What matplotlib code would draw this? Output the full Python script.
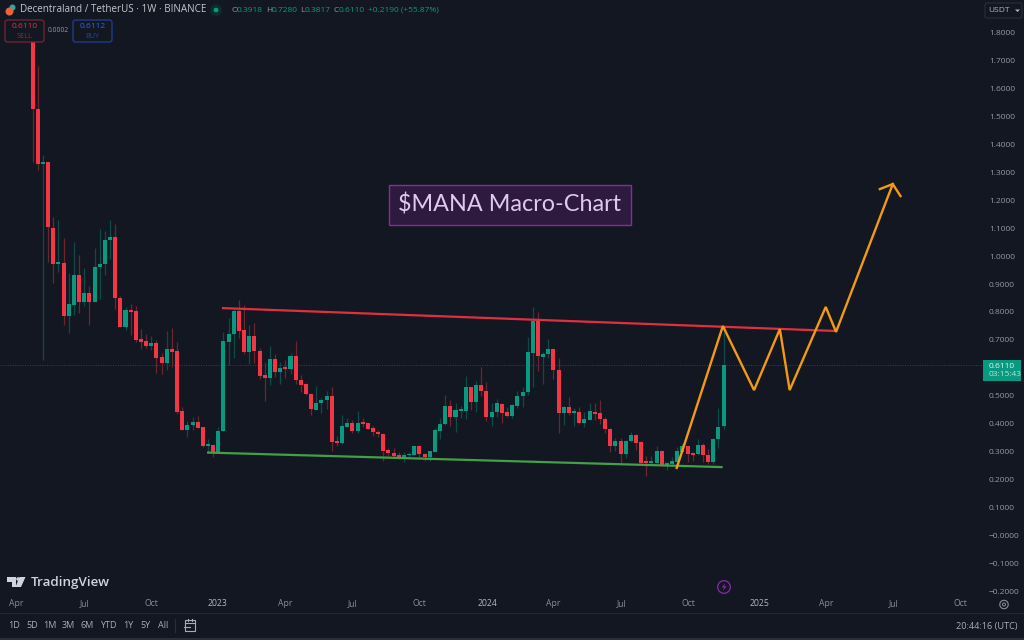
import math
import matplotlib
matplotlib.use("Agg")
import matplotlib.pyplot as plt
from matplotlib.patches import Rectangle, FancyBboxPatch, Polygon
from matplotlib.lines import Line2D

# ---- weekly OHLC (MANA/USDT) ----
opens = [1.84,1.525,1.329,1.336,1.100,0.971,0.975,0.786,0.825,0.932,0.836,0.868,0.836,0.961,0.971,1.057,1.068,0.850,0.746,0.807,
         0.804,0.704,0.696,0.679,0.689,0.639,0.618,0.668,0.661,0.446,0.379,0.396,0.407,0.389,0.323,0.325,0.300,0.375,0.693,0.721,
         0.804,0.736,0.657,0.714,0.661,0.575,0.564,0.632,0.586,0.598,0.596,0.643,0.557,0.543,0.507,0.450,0.475,0.486,0.500,0.339,
         0.332,0.389,0.404,0.375,0.404,0.404,0.386,0.371,0.364,0.307,0.296,0.289,0.282,0.288,0.289,0.321,0.293,0.282,0.300,0.375,
         0.400,0.464,0.425,0.448,0.446,0.532,0.479,0.539,0.518,0.425,0.443,0.471,0.443,0.429,0.464,0.500,0.514,0.654,0.768,0.639,
         0.650,0.668,0.593,0.439,0.461,0.441,0.443,0.404,0.414,0.443,0.439,0.418,0.382,0.321,0.339,0.293,0.339,0.361,0.336,0.264,
         0.261,0.261,0.304,0.254,0.257,0.264,0.300,0.321,0.296,0.293,0.325,0.289,0.264,0.346,0.3918]
highs = [1.84,1.679,1.361,1.336,1.139,1.129,1.064,0.939,1.050,1.004,0.957,0.893,1.029,1.096,1.089,1.129,1.114,0.857,0.818,0.829,
         0.821,0.739,0.721,0.714,0.700,0.654,0.732,0.743,0.693,0.461,0.411,0.425,0.429,0.389,0.346,0.329,0.389,0.729,0.779,0.811,
         0.843,0.825,0.754,0.761,0.671,0.621,0.679,0.650,0.621,0.629,0.654,0.696,0.575,0.546,0.511,0.536,0.493,0.518,0.532,0.357,
         0.432,0.421,0.414,0.446,0.421,0.404,0.393,0.379,0.368,0.314,0.314,0.300,0.300,0.300,0.321,0.325,0.296,0.304,0.386,0.421,
         0.504,0.486,0.475,0.464,0.571,0.532,0.554,0.604,0.550,0.475,0.489,0.475,0.461,0.471,0.518,0.532,0.711,0.818,0.800,0.657,
         0.704,0.671,0.636,0.464,0.496,0.457,0.461,0.443,0.475,0.475,0.486,0.425,0.386,0.350,0.350,0.343,0.371,0.364,0.339,0.286,
         0.286,0.321,0.307,0.264,0.282,0.318,0.332,0.321,0.300,0.346,0.332,0.311,0.350,0.457,0.7280]
lows = [1.336,1.307,0.629,0.979,0.904,0.943,0.754,0.725,0.789,0.796,0.821,0.754,0.836,0.846,0.932,0.989,0.811,0.745,0.736,0.718,
        0.693,0.668,0.671,0.664,0.582,0.579,0.593,0.604,0.436,0.379,0.354,0.379,0.386,0.318,0.296,0.282,0.296,0.375,0.611,0.636,
        0.707,0.650,0.614,0.618,0.561,0.482,0.539,0.568,0.543,0.564,0.579,0.543,0.514,0.504,0.432,0.450,0.439,0.454,0.304,0.321,
        0.329,0.389,0.368,0.368,0.389,0.382,0.357,0.354,0.268,0.286,0.282,0.275,0.264,0.279,0.289,0.282,0.268,0.268,0.300,0.346,
        0.396,0.393,0.371,0.421,0.418,0.450,0.443,0.500,0.411,0.393,0.425,0.404,0.425,0.421,0.457,0.461,0.504,0.532,0.589,0.543,
        0.636,0.561,0.368,0.396,0.432,0.393,0.400,0.389,0.414,0.414,0.400,0.368,0.300,0.304,0.257,0.279,0.336,0.307,0.257,0.214,
        0.261,0.261,0.250,0.236,0.254,0.261,0.296,0.264,0.268,0.289,0.264,0.257,0.257,0.314,0.3817]
closes = [1.525,1.329,1.334,1.104,0.971,0.975,0.786,0.829,0.932,0.836,0.868,0.836,0.961,0.971,1.057,1.068,0.850,0.746,0.807,0.800,
          0.700,0.693,0.679,0.689,0.636,0.618,0.668,0.657,0.443,0.379,0.396,0.407,0.386,0.321,0.325,0.296,0.375,0.696,0.721,0.804,
          0.732,0.657,0.714,0.661,0.571,0.564,0.632,0.586,0.600,0.596,0.643,0.557,0.539,0.507,0.454,0.475,0.486,0.500,0.336,0.332,
          0.393,0.404,0.375,0.404,0.401,0.382,0.371,0.364,0.304,0.296,0.286,0.279,0.286,0.289,0.321,0.293,0.282,0.304,0.379,0.400,
          0.464,0.425,0.450,0.450,0.532,0.479,0.539,0.518,0.425,0.443,0.475,0.439,0.429,0.468,0.500,0.514,0.657,0.768,0.643,0.650,
          0.668,0.593,0.439,0.461,0.439,0.443,0.404,0.418,0.446,0.436,0.418,0.382,0.321,0.339,0.293,0.339,0.361,0.332,0.261,0.261,
          0.264,0.304,0.254,0.257,0.268,0.304,0.321,0.293,0.289,0.325,0.289,0.264,0.346,0.389,0.6110]

last_price = 0.6110

# trend lines and projection: (week index, price)
resistance_x = [36.7, 156.0]
resistance_y = [0.814, 0.732]
support_x = [33.8, 133.8]
support_y = [0.298, 0.246]
path_x = [124.9, 133.85, 139.9, 144.9, 146.8, 153.8, 155.8, 166.8]
path_y = [0.243, 0.750, 0.521, 0.739, 0.521, 0.818, 0.729, 1.257]
head_x = [164.3, 166.8, 168.3]
head_y = [1.239, 1.257, 1.214]

price_ticks = [1.8,1.7,1.6,1.5,1.4,1.3,1.2,1.1,1.0,0.9,0.8,0.7,0.5,0.4,0.3,0.2,0.1,0.0,-0.1,-0.2]
price_labels = ["1.8000","1.7000","1.6000","1.5000","1.4000","1.3000","1.2000","1.1000","1.0000","0.9000","0.8000",
                "0.7000","0.5000","0.4000","0.3000","0.2000","0.1000","\u22120.0000","\u22120.1000","\u22120.2000"]
time_ticks = [-3.2, 10, 23, 35.9, 48.9, 62, 74.9, 88.1, 100.9, 114.2, 127.1, 141, 153.8, 167, 180]
time_labels = ["Apr","Jul","Oct","2023","Apr","Jul","Oct","2024","Apr","Jul","Oct","2025","Apr","Jul","Oct"]
ranges = ["1D","5D","1M","3M","6M","YTD","1Y","5Y","All"]
range_px = [14, 32, 50, 68, 87, 108, 128, 145, 163]

BG = "#131722"
UP, DOWN = "#089981", "#F23645"
UP_W, DOWN_W = "#0c4c48", "#6d2530"
ORANGE = "#f49a12"
W, H = 1024, 640
plt.rcParams["font.family"] = ["Open Sans", "DejaVu Sans"]

fig = plt.figure(figsize=(W / 100, H / 100), dpi=100, facecolor=BG)
ax = fig.add_axes([0, 1 - 596 / H, 983 / W, 596 / H], facecolor=BG)
ax.set_xlim(-6.34, 184.3)
ax.set_ylim(-0.2143, 1.9143)
for s in ax.spines.values():
    s.set_visible(False)

ax.axhline(last_price, color="#0e4d49", lw=0.8, ls=(0, (1, 1.2)), zorder=1)

for i, (o, h, l, c) in enumerate(zip(opens, highs, lows, closes)):
    up = c >= o
    ax.vlines(i, l, h, color=UP_W if up else DOWN_W, lw=0.9, zorder=2)
    ax.bar(i, max(abs(c - o), 0.006), bottom=min(o, c), width=0.78,
           color=UP if up else DOWN, linewidth=0, zorder=3)

ax.plot(support_x, support_y, color="#43a047", lw=1.6, zorder=4, solid_capstyle="butt")
ax.plot(resistance_x, resistance_y, color="#e0303f", lw=1.6, zorder=4, solid_capstyle="butt")
ax.plot(path_x, path_y, color=ORANGE, lw=1.7, zorder=5, solid_joinstyle="miter")
ax.plot(head_x, head_y, color=ORANGE, lw=1.7, zorder=5, solid_joinstyle="miter")

ax.yaxis.tick_right()
ax.set_yticks(price_ticks, price_labels)
ax.set_xticks(time_ticks, time_labels)
ax.tick_params(axis="y", length=0, pad=4.2, labelsize=6, labelcolor="#9598a1")
ax.tick_params(axis="x", length=0, pad=2.4, labelsize=6.2, labelcolor="#8a8d96")
for lab in ax.get_xticklabels():
    if lab.get_text().isdigit():
        lab.set_color("#b2b5be")


def px(x, y):
    return x / W, 1 - y / H


def label(x, y, s, color="#b2b5be", size=6, ha="left", va="center", **kw):
    fig.text(*px(x, y), s, color=color, fontsize=size, ha=ha, va=va, zorder=20, **kw)


def box(x0, y0, x1, y1, fc, ec, lw=0.9, round_=None, z=15):
    ll = px(x0, y1)
    w, h = (x1 - x0) / W, (y1 - y0) / H
    if round_:
        p = FancyBboxPatch(ll, w, h, boxstyle=f"round,pad=0,rounding_size={round_ / W}",
                           transform=fig.transFigure, fc=fc, ec=ec, lw=lw, zorder=z,
                           mutation_aspect=W / H)
    else:
        p = Rectangle(ll, w, h, transform=fig.transFigure, fc=fc, ec=ec, lw=lw, zorder=z)
    fig.add_artist(p)


def pline(xs, ys, color, lw=0.8, z=15):
    fig.add_artist(Line2D([x / W for x in xs], [1 - y / H for y in ys], color=color, lw=lw, zorder=z))


def shape(points, fc, ec="none", lw=0.8, z=16):
    fig.add_artist(Polygon([px(x, y) for x, y in points], closed=True, transform=fig.transFigure,
                           fc=fc, ec=ec, lw=lw, zorder=z))


def circle(x, y, r, fc, ec="none", lw=0.8, z=16):
    n = 48
    shape([(x + r * math.cos(2 * math.pi * k / n), y + r * math.sin(2 * math.pi * k / n)) for k in range(n)],
          fc, ec, lw, z)


# ---- header ----
circle(12.5, 7.5, 3, "#2aa8a0")
circle(9.5, 11.5, 4, "#f0603a")
label(20, 10, "Decentraland / TetherUS \u00b7 1W \u00b7 BINANCE", color="#c4c6cc", size=7.1)
circle(216, 10, 6, "#0d2a2c")
circle(216, 10, 2.4, "#089981", z=17)
for x, s in [(231, "O"), (266, "H"), (300, "L"), (333, "C")]:
    label(x, 10, s, color="#9598a1", size=6)
for x, s in [(237, "0.3918"), (272, "0.7280"), (305, "0.3817"), (339, "0.6110"), (368, "+0.2190 (+55.87%)")]:
    label(x, 10, s, color="#089981", size=6)

box(5, 20, 44, 42, BG, "#7a2530", round_=2.5)
label(24.5, 27, "0.6110", color="#e5323f", size=6, ha="center")
label(24.5, 36, "SELL", color="#8f2a36", size=5.2, ha="center")
label(58.5, 31, "0.0002", color="#9598a1", size=4.8, ha="center")
box(73, 20, 112, 42, BG, "#1f3f8f", round_=2.5)
label(92.5, 27, "0.6112", color="#2962ff", size=6, ha="center")
label(92.5, 36, "BUY", color="#1f47a8", size=5.2, ha="center")

# ---- price axis widgets ----
box(985, 3, 1022, 18, BG, "#2a2e39", lw=0.8, round_=2)
label(988, 10.5, "USDT", color="#b2b5be", size=6)
shape([(1015, 9.5), (1020, 9.5), (1017.5, 12)], "#b2b5be")
box(983, 360, 1021, 381, UP, "none", lw=0)
label(989, 366, "0.6110", color="#e8f5f3", size=6)
label(989, 375, "03:15:43", color="#b8e2dc", size=6)

# ---- annotation box ----
box(388.5, 184.5, 631, 225, "#2e1a3e", "#8a2a9c", lw=1.0, z=8)
label(509.5, 205, "$MANA Macro-Chart", color="#e1c9ee", size=16.8, ha="center", family="Lato")

# ---- logo ----
shape([(7, 577), (16, 577), (16, 587), (11.5, 587), (11.5, 581.5), (7, 581.5)], "#d1d4dc")
shape([(19.5, 577), (25.5, 577), (21, 587), (15.5, 587)], "#d1d4dc")
circle(18, 579, 1.8, "#d1d4dc")
label(31, 582.5, "TradingView", color="#d1d4dc", size=9.6, fontweight="semibold")

# ---- lightning badge ----
circle(724, 587, 6.3, BG, ec="#7b2a99", lw=1.0)
shape([(725.5, 583), (721.5, 587.5), (724, 587.5), (722.8, 591), (726.8, 586.3), (724.4, 586.3)], "#7b2a99", z=18)

# ---- gear ----
circle(1004, 604.5, 4.2, BG, ec="#8a8d96", lw=0.8)
circle(1004, 604.5, 1.5, BG, ec="#8a8d96", lw=0.7, z=17)

# ---- bottom bar ----
pline([0, 1024], [613, 613], "#232732", lw=0.8)
fig.add_artist(Rectangle((0, 0), 1, 2.5 / H, transform=fig.transFigure, fc="#2a2e39", ec="none", zorder=15))
for x, s in zip(range_px, ranges):
    label(x, 625.5, s, color="#a9acb5", size=6.5, ha="center")
pline([175, 175], [619, 632], "#2a2e39", lw=0.8)
box(185, 620, 195, 631, BG, "#a9acb5", lw=0.8)
pline([185, 195], [623, 623], "#a9acb5", lw=0.8, z=16)
pline([188, 188], [619, 621], "#a9acb5", lw=0.8, z=16)
pline([192, 192], [619, 621], "#a9acb5", lw=0.8, z=16)
pline([184, 190], [627, 627], "#a9acb5", lw=0.8, z=17)
label(1018, 626, "20:44:16 (UTC)", color="#a9acb5", size=6.6, ha="right")

fig.savefig("out.png", dpi=100, facecolor=BG)
